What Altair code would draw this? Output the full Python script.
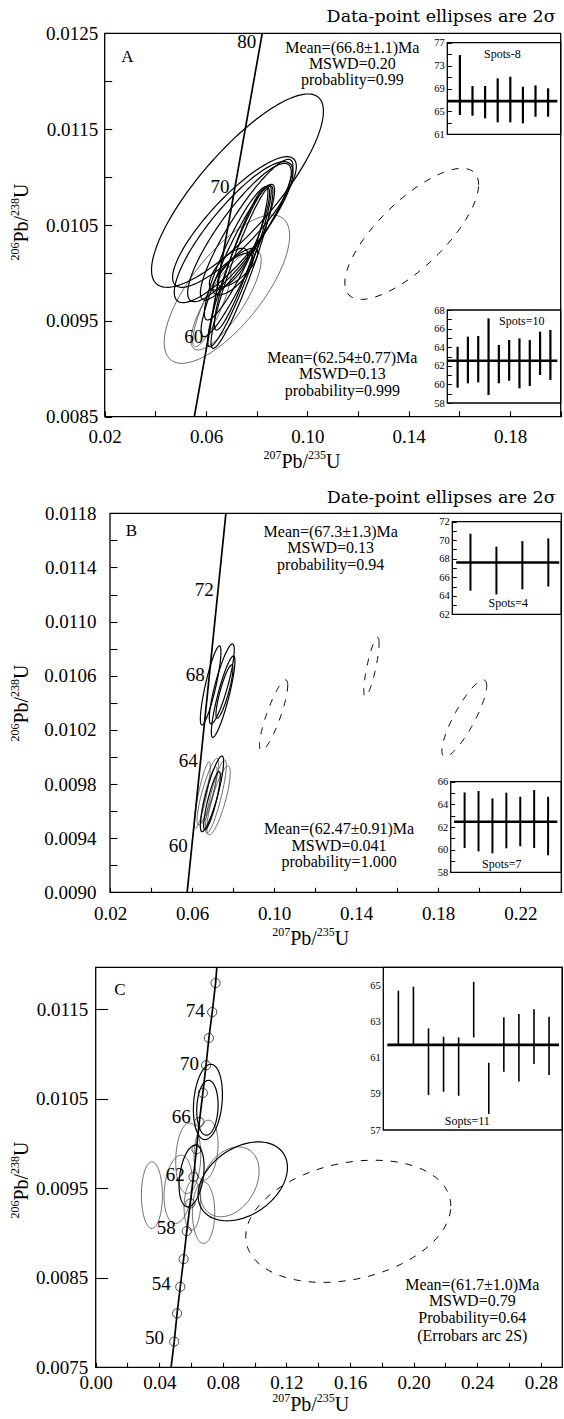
import math
import pandas as pd
import altair as alt

W, H = 564, 1419
SERIF = "Liberation Serif"
WIDE = "DejaVu Serif"

# ---------------- values ----------------
# ellipses: (x_min, x_max, y_min, y_max, correlation) in data units
A_ELL = [
    (0.03848, 0.10634, 0.009850, 0.011867, 0.82),
    (0.04680, 0.09564, 0.009850, 0.011213, 0.85),
    (0.04746, 0.09432, 0.009690, 0.011161, 0.85),
    (0.05274, 0.09366, 0.009700, 0.011143, 0.87),
    (0.05776, 0.09432, 0.009717, 0.011185, 0.90),
    (0.05802, 0.08706, 0.009335, 0.010924, 0.92),
    (0.06066, 0.08574, 0.009230, 0.010917, 0.93),
    (0.06198, 0.08640, 0.009213, 0.010907, 0.93),
    (0.06330, 0.08442, 0.009404, 0.010900, 0.92),
    (0.05934, 0.08508, 0.009509, 0.010900, 0.90),
    (0.04350, 0.09300, 0.009057, 0.010604, 0.72),
    (0.05406, 0.08178, 0.009196, 0.010239, 0.80),
    (0.05472, 0.06990, 0.009230, 0.010065, 0.85),
    (0.06132, 0.07650, 0.009822, 0.010257, 0.70),
    (0.06264, 0.07848, 0.009770, 0.010204, 0.70),
    (0.06462, 0.08046, 0.009857, 0.010257, 0.75),
    (0.11479, 0.16759, 0.009724, 0.011091, 0.75),
]
A_ELL_STYLE = ["dark"] * 10 + ["light"] * 3 + ["dark"] * 3 + ["dash"]

B_ELL = [
    (0.06405, 0.07409, 0.010236, 0.010820, 0.85),
    (0.06842, 0.08057, 0.010244, 0.010835, 0.85),
    (0.06939, 0.08089, 0.010145, 0.010746, 0.87),
    (0.07166, 0.07992, 0.010286, 0.010680, 0.85),
    (0.06113, 0.06891, 0.009473, 0.009965, 0.85),
    (0.06405, 0.07538, 0.009448, 0.010007, 0.85),
    (0.06648, 0.07668, 0.009436, 0.009978, 0.85),
    (0.06729, 0.07862, 0.009424, 0.009933, 0.80),
    (0.06437, 0.07214, 0.009510, 0.009928, 0.85),
    (0.06243, 0.07295, 0.009498, 0.009990, 0.85),
    (0.06567, 0.07377, 0.009461, 0.009891, 0.85),
    (0.09287, 0.10664, 0.010047, 0.010569, 0.85),
    (0.14372, 0.15117, 0.010446, 0.010884, 0.80),
    (0.18178, 0.20364, 0.010002, 0.010569, 0.85),
]
B_ELL_STYLE = ["dark"] * 4 + ["light", "dark", "light", "light", "light", "light", "dark"] + ["dash"] * 3

C_ELL = [
    (0.02874, 0.04195, 0.009052, 0.009796, 0.00),
    (0.04300, 0.06083, 0.009107, 0.009870, 0.20),
    (0.05034, 0.06607, 0.009442, 0.010231, 0.10),
    (0.05244, 0.06817, 0.009293, 0.009982, 0.30),
    (0.06146, 0.07971, 0.010045, 0.010886, 0.20),
    (0.06355, 0.07698, 0.010094, 0.010707, 0.10),
    (0.06188, 0.07698, 0.009591, 0.010261, 0.20),
    (0.06083, 0.07488, 0.008884, 0.009573, 0.00),
    (0.05558, 0.06607, 0.009033, 0.009591, 0.10),
    (0.06439, 0.12061, 0.009137, 0.010019, 0.35),
    (0.06565, 0.10278, 0.009182, 0.009963, 0.30),
    (0.09439, 0.22338, 0.008449, 0.009814, 0.25),
]
C_ELL_STYLE = ["light", "light", "light", "dark", "dark", "dark", "light", "light", "light", "dark", "light", "dash"]

# concordia curves
A_CONC_X = [0.05538, 0.08218]
A_CONC_Y = [0.0085, 0.0125]
B_CONC_X = [0.05760, 0.07650]
B_CONC_Y = [0.0090, 0.0118]
C_CONC_X = [0.0474, 0.0494, 0.0512, 0.0532, 0.0553, 0.0573, 0.0595, 0.0615, 0.0634,
            0.0652, 0.0674, 0.0694, 0.0712, 0.0733, 0.0754, 0.0762]
C_CONC_Y = [0.0075, 0.007787, 0.008103, 0.008400, 0.008709, 0.009022, 0.009331, 0.009628,
            0.009937, 0.010242, 0.010566, 0.010875, 0.011180, 0.011470, 0.011794, 0.01197]
C_TICK_X = C_CONC_X[1:-1]
C_TICK_Y = C_CONC_Y[1:-1]

# age labels on concordia (label anchor = right/middle)
A_AGE = ["80", "70", "60"]
A_AGE_X = [0.0798, 0.06923, 0.05893]
A_AGE_Y = [0.012412, 0.010898, 0.009331]
B_AGE = ["72", "68", "64", "60"]
B_AGE_X = [0.07053, 0.06615, 0.06275, 0.05789]
B_AGE_Y = [0.011234, 0.010606, 0.009970, 0.009342]
C_AGE = ["74", "70", "66", "62", "58", "54", "50"]
C_AGE_X = [0.06859, 0.06502, 0.05978, 0.05600, 0.05034, 0.04719, 0.04300]
C_AGE_Y = [0.011478, 0.010893, 0.010298, 0.009654, 0.009052, 0.008426, 0.007824]

# weighted-mean insets (error bar tops / bottoms, Ma)
A1_HI = [74.84, 69.43, 69.43, 70.77, 71.06, 69.31, 69.55, 69.03]
A1_LO = [64.37, 64.25, 63.79, 63.09, 63.09, 62.92, 64.07, 64.07]
A1_MEAN = 66.8
A2_HI = [64.05, 65.13, 65.20, 67.10, 64.24, 64.77, 64.95, 64.77, 65.67, 65.85]
A2_LO = [59.65, 60.12, 60.22, 58.86, 60.12, 60.40, 59.58, 59.83, 61.01, 60.47]
A2_MEAN = 62.54
B1_HI = [70.70, 69.30, 69.90, 70.20]
B1_LO = [64.55, 64.15, 64.70, 65.00]
B1_MEAN = 67.6
B2_HI = [65.05, 65.18, 64.53, 65.03, 64.67, 65.26, 64.67]
B2_LO = [60.15, 59.85, 59.68, 60.12, 60.30, 60.15, 59.50]
B2_MEAN = 62.47
C1_HI = [64.69, 64.91, 62.61, 62.15, 62.11, 65.18, 60.71, 63.22, 63.40, 63.66, 63.25]
C1_LO = [61.74, 61.74, 58.93, 59.11, 58.89, 62.11, 57.88, 60.22, 59.67, 60.64, 60.03]
C1_MEAN = 61.7

# axes
XDOM = {"A": [0.02, 0.20], "B": [0.02, 0.24], "C": [0.0, 0.2935]}
YDOM = {"A": [0.0085, 0.0125], "B": [0.0090, 0.0118], "C": [0.0075, 0.01197]}
XLAB = {"A": [0.02, 0.06, 0.10, 0.14, 0.18],
        "B": [0.02, 0.06, 0.10, 0.14, 0.18, 0.22],
        "C": [0.00, 0.04, 0.08, 0.12, 0.16, 0.20, 0.24, 0.28]}
XTICK = {"A": [0.02, 0.04, 0.06, 0.08, 0.10, 0.12, 0.14, 0.16, 0.18, 0.20],
         "B": [0.02, 0.04, 0.06, 0.08, 0.10, 0.12, 0.14, 0.16, 0.18, 0.20, 0.22, 0.24],
         "C": [0.00, 0.02, 0.04, 0.06, 0.08, 0.10, 0.12, 0.14, 0.16, 0.18, 0.20, 0.22, 0.24, 0.26, 0.28]}
YLAB = {"A": [0.0085, 0.0095, 0.0105, 0.0115, 0.0125],
        "B": [0.0090, 0.0094, 0.0098, 0.0102, 0.0106, 0.0110, 0.0114, 0.0118],
        "C": [0.0075, 0.0085, 0.0095, 0.0105, 0.0115]}
YTICK = {"A": [0.0085, 0.0090, 0.0095, 0.0100, 0.0105, 0.0110, 0.0115, 0.0120, 0.0125],
         "B": [0.0090, 0.0092, 0.0094, 0.0096, 0.0098, 0.0100, 0.0102, 0.0104, 0.0106,
               0.0108, 0.0110, 0.0112, 0.0114, 0.0116, 0.0118],
         "C": [0.0075, 0.0085, 0.0095, 0.0105, 0.0115]}

# axis titles as (superscript, base) pieces
TITLE_X = [("207", True), ("Pb/", False), ("235", True), ("U", False)]
TITLE_Y = [("206", True), ("Pb/", False), ("238", True), ("U", False)]

# ---------------- layout (pixels) ----------------
FRAME = {
    "A": dict(x0=104.7, x1=560.7, y0=33.3, y1=416.7, xpad=11, ypad=7, tx=6, ty=7),
    "B": dict(x0=110.0, x1=561.3, y0=513.3, y1=892.3, xpad=12, ypad=14, tx=5, ty=7),
    "C": dict(x0=95.7, x1=562.3, y0=967.3, y1=1367.3, xpad=6, ypad=8, tx=5, ty=12),
}

INSETS = [
    dict(box=(447.3, 560.7, 42.7, 134.3), xdom=[0, 9], ydom=[61, 77],
         labels=[61, 65, 69, 73, 77], ticks=[61, 63, 65, 67, 69, 71, 73, 75, 77],
         hi=A1_HI, lo=A1_LO, mean=A1_MEAN, mspan=[0, 8.73], bw=2.2),
    dict(box=(447.3, 560.7, 310.0, 403.0), xdom=[0, 11], ydom=[58, 68],
         labels=[58, 60, 62, 64, 66, 68], ticks=list(range(58, 69)),
         hi=A2_HI, lo=A2_LO, mean=A2_MEAN, mspan=[0, 10.67], bw=2.2),
    dict(box=(452.3, 561.3, 521.7, 614.3), xdom=[0.3, 4.5], ydom=[62, 72],
         labels=[62, 64, 66, 68, 70, 72], ticks=list(range(62, 73)),
         hi=B1_HI, lo=B1_LO, mean=B1_MEAN, mspan=[0.45, 4.42], bw=2.0),
    dict(box=(450.7, 561.3, 781.7, 872.3), xdom=[0, 7.95], ydom=[58, 66],
         labels=[58, 60, 62, 64, 66], ticks=list(range(58, 67)),
         hi=B2_HI, lo=B2_LO, mean=B2_MEAN, mspan=[0.24, 7.66], bw=2.0),
    dict(box=(383.3, 562.3, 967.3, 1130.0), xdom=[0, 11.88], ydom=[57, 65.98],
         labels=[57, 59, 61, 63, 65], ticks=[],
         hi=C1_HI, lo=C1_LO, mean=C1_MEAN, mspan=[0.27, 11.66], bw=1.6),
]

CENTER_TEXT = [
    ("A", 127.3, 57.3, 17),
    ("Mean=(66.8±1.1)Ma", 352.3, 48.3, 16),
    ("MSWD=0.20", 352.3, 64.0, 16),
    ("probablity=0.99", 352.3, 80.0, 16),
    ("Mean=(62.54±0.77)Ma", 342.3, 357.7, 16),
    ("MSWD=0.13", 342.3, 374.3, 16),
    ("probability=0.999", 342.3, 390.7, 16),
    ("Spots-8", 502.3, 54.3, 12),
    ("Spots=10", 521.7, 320.7, 12),
    ("B", 131.3, 531.0, 17),
    ("Mean=(67.3±1.3)Ma", 330.7, 532.3, 16),
    ("MSWD=0.13", 330.7, 548.3, 16),
    ("probability=0.94", 330.7, 565.0, 16),
    ("Mean=(62.47±0.91)Ma", 339.0, 829.3, 16),
    ("MSWD=0.041", 339.0, 845.7, 16),
    ("probability=1.000", 339.0, 861.7, 16),
    ("Spots=4", 508.3, 603.3, 12),
    ("Spots=7", 501.7, 864.0, 12),
    ("C", 120.0, 990.0, 17),
    ("Mean=(61.7±1.0)Ma", 472.3, 1285.0, 16),
    ("MSWD=0.79", 472.3, 1301.0, 16),
    ("Probability=0.64", 472.3, 1318.3, 16),
    ("(Errobars arc 2S)", 472.3, 1335.7, 16),
    ("Sopts=11", 467.3, 1121.0, 12),
]
RIGHT_TEXT = [
    ("Data-point ellipses are 2σ", 555.7, 16.7, 17.5),
    ("Date-point ellipses are 2σ", 555.7, 498.3, 17.5),
]
XTITLE_POS = [(302.0, 461.0), (310.7, 938.0), (310.7, 1404.0)]
YTITLE_POS = [(21.0, 222.0), (21.0, 703.0), (21.0, 1180.0)]
BASE_FS, SUP_FS = 20, 12
CHAR_W = {"P": 0.556, "b": 0.5, "/": 0.278, "U": 0.722}

STYLE = {
    "dark": dict(stroke="black", strokeWidth=1.2),
    "light": dict(stroke="#3a3a3a", strokeWidth=0.75),
    "dash": dict(stroke="black", strokeWidth=1.0, strokeDash=[7, 8]),
}
NPTS = 140


def sc(domain, rng):
    return alt.Scale(domain=domain, range=rng, nice=False, zero=False)


def ellipse_df(ells, styles, want):
    rows = []
    for j, (xa, xb, ya, yb, r) in enumerate(ells):
        if styles[j] != want:
            continue
        cx, cy = (xa + xb) / 2, (ya + yb) / 2
        ax, ay = (xb - xa) / 2, (yb - ya) / 2
        s = math.sqrt(max(0.0, 1 - r * r))
        for k in range(NPTS + 1):
            t = 2 * math.pi * k / NPTS
            rows.append({"e": j, "k": k, "x": cx + ax * math.cos(t),
                         "y": cy + ay * (r * math.cos(t) + s * math.sin(t))})
    return pd.DataFrame(rows)


def piece_width(txt, sup):
    if sup:
        return 0.5 * SUP_FS * len(txt)
    return sum(CHAR_W.get(ch, 0.5) for ch in txt) * BASE_FS


def title_rows(pieces, cx, cy, rotated):
    total = sum(piece_width(t, s) for t, s in pieces)
    rows = []
    pos = -total / 2
    base_off = 0.33 * BASE_FS
    for t, s in pieces:
        lift = 8.5 if s else 0.0
        fs = SUP_FS if s else BASE_FS
        if not rotated:
            rows.append((t, cx + pos, cy + base_off - lift, fs))
        else:
            rows.append((t, cx + base_off - lift, cy - pos, fs))
        pos += piece_width(t, s)
    return rows


PANEL_DATA = {
    "A": dict(ell=A_ELL, sty=A_ELL_STYLE, cx=A_CONC_X, cy=A_CONC_Y,
              age=A_AGE, ax=A_AGE_X, ay=A_AGE_Y),
    "B": dict(ell=B_ELL, sty=B_ELL_STYLE, cx=B_CONC_X, cy=B_CONC_Y,
              age=B_AGE, ax=B_AGE_X, ay=B_AGE_Y),
    "C": dict(ell=C_ELL, sty=C_ELL_STYLE, cx=C_CONC_X, cy=C_CONC_Y,
              age=C_AGE, ax=C_AGE_X, ay=C_AGE_Y),
}

layers = []
for p in "ABC":
    f = FRAME[p]
    d = PANEL_DATA[p]
    XS = sc(XDOM[p], [f["x0"], f["x1"]])
    YS = sc(YDOM[p], [f["y1"], f["y0"]])

    # frame + labelled axes
    fdf = pd.DataFrame({"xa": [XDOM[p][0]], "xb": [XDOM[p][1]],
                        "ya": [YDOM[p][0]], "yb": [YDOM[p][1]]})
    layers.append(
        alt.Chart(fdf).mark_rect(fill="white", fillOpacity=0, stroke="black", strokeWidth=1.3).encode(
            x=alt.X("xa:Q", scale=XS, axis=alt.Axis(
                orient="bottom", offset=f["y1"] - H, values=XLAB[p], format=".2f",
                ticks=False, domain=False, grid=False, title=None,
                labelFont=SERIF, labelFontSize=19, labelColor="black",
                labelPadding=f["xpad"], labelFlush=False, labelOverlap=False)),
            x2="xb:Q",
            y=alt.Y("ya:Q", scale=YS, axis=alt.Axis(
                orient="left", offset=-f["x0"], values=YLAB[p], format=".4f",
                ticks=False, domain=False, grid=False, title=None,
                labelFont=SERIF, labelFontSize=19, labelColor="black",
                labelPadding=f["ypad"], labelFlush=False, labelOverlap=False)),
            y2="yb:Q",
        )
    )
    # inward ticks
    tdf = pd.DataFrame({"x": [XDOM[p][0]], "y": [YDOM[p][0]]})
    layers.append(
        alt.Chart(tdf).mark_point(opacity=0).encode(
            x=alt.X("x:Q", scale=XS, axis=alt.Axis(
                orient="bottom", offset=f["y1"] - f["tx"] - H, values=XTICK[p],
                tickSize=f["tx"], tickColor="black", tickWidth=1.1,
                labels=False, domain=False, grid=False, title=None)),
            y=alt.Y("y:Q", scale=YS, axis=alt.Axis(
                orient="left", offset=-(f["x0"] + f["ty"]), values=YTICK[p],
                tickSize=f["ty"], tickColor="black", tickWidth=1.1,
                labels=False, domain=False, grid=False, title=None)),
        )
    )
    # ellipses
    for style in ["light", "dark", "dash"]:
        edf = ellipse_df(d["ell"], d["sty"], style)
        if len(edf) == 0:
            continue
        layers.append(
            alt.Chart(edf).mark_line(**STYLE[style]).encode(
                x=alt.X("x:Q", scale=XS, axis=None),
                y=alt.Y("y:Q", scale=YS, axis=None),
                detail="e:N", order="k:Q",
            )
        )
    # concordia
    cdf = pd.DataFrame({"x": d["cx"], "y": d["cy"], "k": list(range(len(d["cx"])))})
    layers.append(
        alt.Chart(cdf).mark_line(stroke="black", strokeWidth=1.7).encode(
            x=alt.X("x:Q", scale=XS, axis=None),
            y=alt.Y("y:Q", scale=YS, axis=None),
            order="k:Q",
        )
    )
    if p == "C":
        ptdf = pd.DataFrame({"x": C_TICK_X, "y": C_TICK_Y})
        layers.append(
            alt.Chart(ptdf).mark_point(shape="circle", size=85, color="black",
                                       strokeWidth=1.0, filled=False).encode(
                x=alt.X("x:Q", scale=XS, axis=None),
                y=alt.Y("y:Q", scale=YS, axis=None),
            )
        )
    adf = pd.DataFrame({"t": d["age"], "x": d["ax"], "y": d["ay"]})
    layers.append(
        alt.Chart(adf).mark_text(align="right", baseline="middle", font=SERIF,
                                 fontSize=19, color="black").encode(
            x=alt.X("x:Q", scale=XS, axis=None),
            y=alt.Y("y:Q", scale=YS, axis=None),
            text="t:N",
        )
    )

# insets
for ins in INSETS:
    bx0, bx1, by0, by1 = ins["box"]
    IXS = sc(ins["xdom"], [bx0, bx1])
    IYS = sc(ins["ydom"], [by1, by0])
    bdf = pd.DataFrame({"xa": [ins["xdom"][0]], "xb": [ins["xdom"][1]],
                        "ya": [ins["ydom"][0]], "yb": [ins["ydom"][1]]})
    layers.append(
        alt.Chart(bdf).mark_rect(fill="white", fillOpacity=0, stroke="black", strokeWidth=1.3).encode(
            x=alt.X("xa:Q", scale=IXS, axis=None),
            x2="xb:Q",
            y=alt.Y("ya:Q", scale=IYS, axis=alt.Axis(
                orient="left", offset=-bx0, values=ins["labels"], format="d",
                ticks=False, domain=False, grid=False, title=None,
                labelFont=SERIF, labelFontSize=10.5, labelColor="black",
                labelPadding=3, labelFlush=False, labelOverlap=False)),
            y2="yb:Q",
        )
    )
    if ins["ticks"]:
        tdf = pd.DataFrame({"x": [ins["xdom"][0]], "y": [ins["ydom"][0]]})
        layers.append(
            alt.Chart(tdf).mark_point(opacity=0).encode(
                x=alt.X("x:Q", scale=IXS, axis=None),
                y=alt.Y("y:Q", scale=IYS, axis=alt.Axis(
                    orient="left", offset=-(bx0 + 4), values=ins["ticks"],
                    tickSize=4, tickColor="black", tickWidth=1,
                    labels=False, domain=False, grid=False, title=None)),
            )
        )
    mdf = pd.DataFrame({"a": [ins["mspan"][0]], "b": [ins["mspan"][1]], "m": [ins["mean"]]})
    layers.append(
        alt.Chart(mdf).mark_rule(color="black", strokeWidth=2.6).encode(
            x=alt.X("a:Q", scale=IXS, axis=None),
            x2="b:Q",
            y=alt.Y("m:Q", scale=IYS, axis=None),
        )
    )
    n = len(ins["hi"])
    ebdf = pd.DataFrame({"i": list(range(1, n + 1)), "lo": ins["lo"], "hi": ins["hi"]})
    layers.append(
        alt.Chart(ebdf).mark_rule(color="black", strokeWidth=ins["bw"]).encode(
            x=alt.X("i:Q", scale=IXS, axis=None),
            y=alt.Y("lo:Q", scale=IYS, axis=None),
            y2="hi:Q",
        )
    )


def text_layer(rows, **kw):
    df = pd.DataFrame({"t": [r[0] for r in rows], "px": [r[1] for r in rows],
                       "py": [r[2] for r in rows], "fs": [r[3] for r in rows]})
    kw.setdefault("baseline", "middle")
    return alt.Chart(df).mark_text(color="black", **kw).encode(
        x=alt.X("px:Q", scale=None, axis=None),
        y=alt.Y("py:Q", scale=None, axis=None),
        size=alt.Size("fs:Q", scale=None, legend=None),
        text="t:N",
    )


xt_rows = []
for cx, cy in XTITLE_POS:
    xt_rows += title_rows(TITLE_X, cx, cy, False)
yt_rows = []
for cx, cy in YTITLE_POS:
    yt_rows += title_rows(TITLE_Y, cx, cy, True)

layers.append(text_layer(CENTER_TEXT, align="center", font=SERIF))
layers.append(text_layer(RIGHT_TEXT, align="right", font=WIDE))
layers.append(text_layer(xt_rows, align="left", baseline="alphabetic", font=SERIF))
layers.append(text_layer(yt_rows, align="left", baseline="alphabetic", font=SERIF, angle=270))

chart = alt.layer(*layers).resolve_scale(
    x="independent", y="independent", size="independent"
).properties(
    width=W, height=H, padding=0, background="white",
    autosize=alt.AutoSizeParams(type="none"),
).configure_view(strokeWidth=0)

chart.save("out.html", embed_options={"renderer": "svg", "actions": False})
